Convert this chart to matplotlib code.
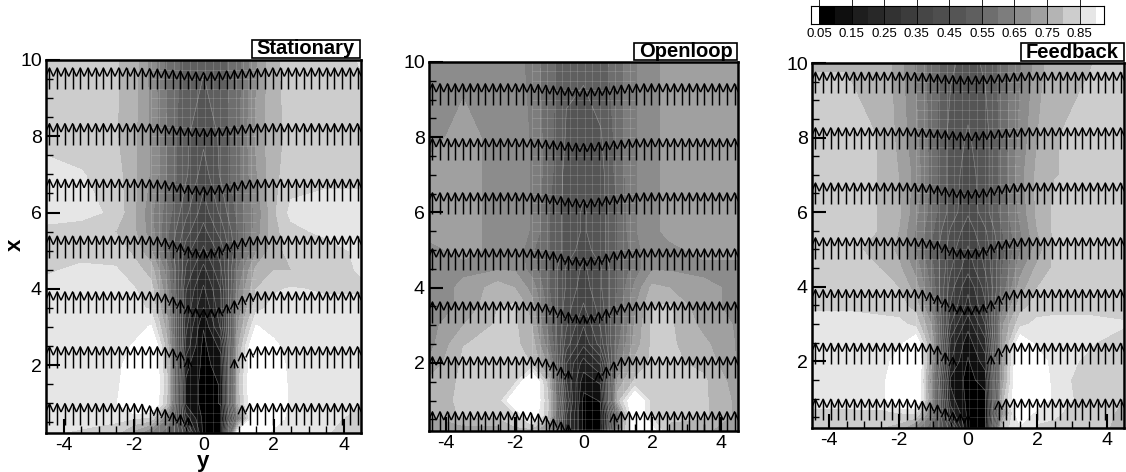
import numpy as np
import matplotlib
matplotlib.use("Agg")
import matplotlib.pyplot as plt
from matplotlib.colors import ListedColormap, BoundaryNorm
from matplotlib.collections import LineCollection

plt.rcParams['font.family'] = ['Liberation Sans', 'DejaVu Sans']
plt.rcParams['axes.unicode_minus'] = False

W, H = 1126, 472

# grid the gray field is read on
y_cols = [-4.5, -3.5, -2.5, -2, -1.5, -1, -0.5, 0, 0.5, 1, 1.5, 2, 2.5, 3.5, 4.5]
x_rows = [0.2, 0.6, 1, 1.5, 2, 2.5, 3, 3.5, 4, 4.5, 5, 5.5, 6, 7, 8, 10]

# these are shades as seen in the panels, turned into values through the colour bar below
field_stationary = [
    [.84, .82, .76, .62, .50, .44, .30, .06, .06, .95, .96, .86, .84, .84, .76],
    [.86, .86, .86, .84, .80, .50, .20, .06, .06, .50, .96, .94, .86, .86, .80],
    [.86, .86, .89, .98, .98, .70, .12, .06, .08, .70, .98, .98, .88, .86, .84],
    [.86, .86, .87, .97, .98, .72, .12, .06, .08, .72, .98, .97, .87, .86, .86],
    [.86, .86, .86, .94, .98, .70, .15, .06, .10, .70, .98, .95, .86, .86, .86],
    [.86, .86, .86, .90, .97, .66, .20, .06, .15, .66, .97, .91, .86, .86, .86],
    [.86, .86, .86, .87, .90, .60, .22, .08, .22, .60, .90, .87, .86, .86, .86],
    [.86, .86, .86, .86, .82, .55, .24, .13, .24, .55, .80, .86, .86, .86, .86],
    [.86, .86, .86, .84, .78, .52, .25, .17, .25, .52, .74, .82, .84, .82, .82],
    [.82, .85, .84, .79, .70, .48, .28, .20, .28, .48, .68, .74, .74, .80, .84],
    [.74, .80, .80, .72, .60, .42, .30, .24, .30, .42, .58, .70, .78, .78, .86],
    [.80, .76, .74, .68, .55, .42, .33, .27, .33, .42, .55, .71, .80, .86, .87],
    [.88, .88, .80, .68, .54, .44, .35, .30, .35, .44, .54, .72, .86, .88, .88],
    [.88, .84, .78, .68, .58, .46, .38, .33, .38, .46, .58, .72, .78, .80, .80],
    [.78, .78, .75, .68, .58, .46, .38, .35, .38, .46, .60, .72, .76, .78, .78],
    [.76, .76, .75, .70, .56, .45, .40, .38, .40, .45, .58, .72, .78, .78, .84],
]
field_openloop = [
    [.58, .62, .62, .72, .70, .55, .25, .06, .06, .52, .96, .92, .72, .68, .60],
    [.66, .76, .76, .80, .94, .72, .25, .06, .06, .45, .97, .80, .76, .76, .64],
    [.70, .76, .76, .95, .98, .72, .28, .06, .08, .70, .96, .78, .76, .76, .64],
    [.68, .76, .76, .80, .97, .68, .25, .10, .14, .62, .76, .76, .76, .76, .62],
    [.60, .76, .76, .76, .74, .56, .25, .16, .22, .50, .68, .76, .76, .72, .58],
    [.56, .74, .76, .76, .70, .48, .30, .22, .30, .46, .62, .76, .76, .68, .58],
    [.56, .66, .76, .76, .66, .44, .32, .25, .32, .44, .60, .76, .76, .64, .58],
    [.56, .60, .74, .76, .62, .44, .33, .28, .33, .44, .58, .74, .76, .60, .58],
    [.56, .60, .70, .66, .56, .42, .34, .30, .34, .42, .54, .68, .66, .60, .58],
    [.56, .58, .58, .58, .50, .42, .34, .31, .34, .42, .50, .58, .58, .58, .58],
    [.58, .60, .58, .58, .48, .42, .36, .33, .36, .42, .50, .58, .58, .60, .60],
    [.60, .60, .58, .56, .52, .42, .36, .34, .36, .42, .52, .58, .60, .60, .60],
    [.60, .60, .58, .56, .52, .42, .36, .34, .36, .42, .52, .58, .60, .60, .60],
    [.60, .60, .58, .56, .52, .44, .36, .35, .36, .44, .52, .58, .60, .60, .60],
    [.58, .60, .58, .56, .52, .44, .37, .36, .37, .44, .52, .58, .60, .60, .60],
    [.56, .58, .58, .56, .50, .44, .38, .38, .40, .44, .52, .58, .60, .60, .60],
]
field_feedback = [
    [.78, .76, .74, .70, .55, .42, .30, .06, .06, .80, .88, .82, .82, .80, .70],
    [.82, .82, .82, .82, .84, .48, .20, .06, .06, .55, .96, .86, .84, .80, .72],
    [.86, .86, .87, .98, .98, .52, .15, .06, .06, .70, .98, .97, .87, .80, .74],
    [.86, .86, .86, .97, .98, .50, .12, .06, .10, .62, .98, .96, .86, .80, .76],
    [.86, .86, .86, .92, .98, .55, .18, .07, .16, .60, .98, .93, .86, .82, .78],
    [.86, .86, .86, .88, .93, .60, .20, .10, .20, .60, .93, .88, .86, .84, .80],
    [.86, .86, .86, .86, .80, .56, .25, .15, .25, .58, .80, .86, .86, .86, .84],
    [.82, .82, .80, .78, .70, .48, .28, .20, .28, .50, .70, .78, .80, .80, .80],
    [.78, .82, .78, .74, .62, .44, .30, .22, .30, .44, .62, .74, .78, .78, .78],
    [.78, .78, .74, .68, .56, .42, .32, .26, .32, .42, .56, .68, .76, .78, .78],
    [.76, .76, .72, .64, .52, .40, .33, .28, .33, .40, .52, .62, .76, .78, .78],
    [.76, .76, .74, .66, .52, .42, .34, .30, .34, .42, .52, .66, .76, .78, .78],
    [.76, .76, .74, .68, .54, .44, .36, .32, .36, .44, .54, .68, .76, .78, .78],
    [.76, .76, .74, .66, .56, .44, .36, .33, .36, .44, .56, .68, .74, .76, .76],
    [.76, .76, .74, .64, .54, .44, .36, .34, .36, .44, .54, .66, .74, .76, .76],
    [.74, .74, .72, .62, .52, .44, .38, .36, .38, .44, .52, .62, .72, .74, .76],
]

# arrow profiles: 12 outer arrows each side, then the 17 wake arrows
arrow_y = [-4.4 + 0.22 * i for i in range(41)]
outer_count = 12

stations_stationary = [9.23, 7.77, 6.31, 4.82, 3.36, 1.92, 0.43]
stations_openloop = [8.86, 7.40, 5.96, 4.47, 3.06, 1.60, 0.14]
stations_feedback = [9.19, 7.70, 6.22, 4.75, 3.36, 1.92, 0.42]

outer_speed = [.56, .56, .56, .56, .56, .56, .56]

wake_stationary = [
    [.55, .54, .53, .52, .50, .48, .46, .45, .44, .45, .46, .48, .50, .52, .53, .54, .55],
    [.56, .55, .54, .52, .50, .48, .45, .44, .43, .44, .45, .48, .50, .52, .54, .55, .56],
    [.56, .55, .54, .52, .48, .44, .40, .38, .36, .38, .40, .44, .48, .52, .54, .55, .56],
    [.56, .55, .54, .50, .44, .36, .28, .22, .20, .22, .28, .36, .44, .50, .54, .55, .56],
    [.56, .56, .54, .50, .42, .34, .20, .12, .10, .10, .14, .22, .32, .44, .52, .56, .56],
    [.56, .56, .56, .54, .50, .42, .25, 0, 0, 0, 0, 0, .22, .40, .50, .56, .56],
    [.54, .50, .46, .40, .32, .26, .18, 0, 0, 0, 0, 0, 0, .50, .56, .56, .56],
]
wake_openloop = [
    [.56, .55, .54, .52, .50, .48, .46, .45, .44, .45, .46, .48, .50, .52, .54, .55, .56],
    [.56, .55, .54, .52, .50, .48, .46, .44, .43, .44, .46, .48, .50, .52, .54, .55, .56],
    [.56, .55, .54, .52, .48, .46, .42, .40, .38, .40, .42, .46, .48, .52, .54, .55, .56],
    [.56, .55, .54, .52, .48, .42, .36, .34, .32, .34, .36, .42, .48, .52, .54, .55, .56],
    [.56, .55, .54, .50, .44, .36, .28, .22, .20, .22, .28, .36, .44, .50, .54, .55, .56],
    [.56, .56, .54, .50, .42, .28, .18, 0, 0, 0, .14, .28, .42, .54, .56, .56, .56],
    [.56, .54, .50, .44, .36, .28, .20, 0, 0, 0, 0, 0, .50, .56, .56, .56, .56],
]
wake_feedback = [
    [.56, .55, .54, .52, .50, .48, .47, .46, .45, .46, .47, .48, .50, .52, .54, .55, .56],
    [.56, .55, .54, .52, .50, .48, .46, .44, .43, .44, .46, .48, .50, .52, .54, .55, .56],
    [.56, .55, .54, .52, .48, .44, .40, .38, .36, .38, .40, .44, .48, .52, .54, .55, .56],
    [.56, .55, .54, .50, .46, .38, .30, .26, .24, .26, .30, .38, .46, .50, .54, .55, .56],
    [.56, .56, .54, .48, .40, .30, .18, .12, .10, .12, .16, .26, .38, .50, .54, .56, .56],
    [.56, .56, .56, .54, .48, .30, .18, 0, 0, 0, 0, .22, .42, .52, .56, .56, .56],
    [.56, .54, .50, .46, .40, .30, .20, .16, .14, 0, 0, 0, .50, .56, .56, .56, .56],
]

panel_names = ["Stationary", "Openloop", "Feedback"]
colorbar_labels = ["0.05", "0.15", "0.25", "0.35", "0.45", "0.55", "0.65", "0.75", "0.85"]
levels = [0.05 * i for i in range(1, 19)]
# gray of each colour bar step
bar_grays = [0, 15, 30, 40, 50, 60, 70, 78, 85, 95, 110, 125, 140, 160, 180, 205, 230]

cmap = ListedColormap([(g / 255, g / 255, g / 255) for g in bar_grays])
cmap.set_over("white")
cmap.set_under("white")
norm = BoundaryNorm(levels, cmap.N)

bar_mids = [lev + 0.025 for lev in levels[:-1]]


def shade_to_value(field):
    g = (np.array(field) - 0.05) * 1.09 * 255
    return np.interp(g, bar_grays + [255], bar_mids + [1.0])


def px_axes(fig, left, right, top, bottom):
    return fig.add_axes([left / W, 1 - bottom / H, (right - left) / W, (bottom - top) / H])


def draw_panel(fig, box, xlim, field, stations, wake, name, namebox):
    ax = px_axes(fig, *box)
    yy, xx = np.meshgrid(y_cols, x_rows)
    z = shade_to_value(field)
    ax.contourf(yy, xx, z, levels=levels, cmap=cmap, norm=norm, extend="both")
    ax.contour(yy, xx, z, levels=levels[:10], colors="#d0d0d0", linewidths=0.4, alpha=0.45)

    # light mesh over the wake
    for v in np.arange(-1.5, 1.55, 0.22):
        ax.vlines(v, xlim[0], 10, color="white", lw=0.5, alpha=0.2)
    for v in np.arange(0.25, 10, 0.25):
        ax.hlines(v, -1.5, 1.5, color="white", lw=0.5, alpha=0.2)

    # velocity profiles, drawn as open arrows
    segs = []
    for st, out, centre in zip(stations, outer_speed, wake):
        row = [out] * outer_count + centre + [out] * outer_count
        for yv, u in zip(arrow_y, row):
            if u <= 0:
                continue
            tip = st + u
            segs.append([(yv, st), (yv, tip)])
            segs.append([(yv - 0.11, tip - 0.22), (yv, tip), (yv + 0.11, tip - 0.22)])
    ax.add_collection(LineCollection(segs, colors="black", linewidths=1.05, zorder=3))

    ax.set_xlim(-4.5, 4.5)
    ax.set_ylim(xlim[0], 10)
    ax.set_xticks([-4, -2, 0, 2, 4])
    ax.set_yticks([2, 4, 6, 8, 10])
    ax.set_xticks(np.arange(-4, 4.5, 0.5), minor=True)
    ax.set_yticks(np.arange(0.5, 10, 0.5), minor=True)
    ax.tick_params(which="major", direction="in", length=10, width=1.5, labelsize=14, pad=3)
    ax.tick_params(which="minor", direction="in", length=5, width=1)
    for s in ax.spines.values():
        s.set_linewidth(1.8)

    l, r, t, b = namebox
    fig.patches.append(plt.Rectangle((l / W, 1 - b / H), (r - l) / W, (b - t) / H, transform=fig.transFigure,
                                     fc="white", ec="black", lw=1.2))
    fig.text((l + r) / 2 / W, 1 - (t + b) / 2 / H, name, ha="center", va="center",
             fontsize=14.5, fontweight="bold")
    return ax


fig = plt.figure(figsize=(W / 100, H / 100), dpi=100)

draw_panel(fig, (46, 361, 60, 433), (0.22, 10), field_stationary, stations_stationary, wake_stationary,
           panel_names[0], (252, 360, 40, 58))
draw_panel(fig, (429, 738, 62, 431), (0.19, 10), field_openloop, stations_openloop, wake_openloop,
           panel_names[1], (634, 737, 43, 60))
draw_panel(fig, (812, 1124, 63, 428), (0.21, 10), field_feedback, stations_feedback, wake_feedback,
           panel_names[2], (1021, 1124, 43, 61))

fig.text(15 / W, 1 - 245 / H, "x", rotation=90, ha="center", va="center", fontsize=16, fontweight="bold")
fig.text(203 / W, 1 - 461 / H, "y", ha="center", va="center", fontsize=16, fontweight="bold")

# colour legend on top of the third panel
cax = px_axes(fig, 811, 1104, 6, 24)
edges = [0.025] + levels + [0.925]
vals = [0.0] + bar_mids + [1.0]
cax.pcolormesh(edges, [0, 1], np.array([vals]), cmap=cmap, norm=norm, edgecolors="none")
cax.set_xlim(0.025, 0.925)
cax.set_ylim(0, 1)
cax.set_yticks([])
cax.set_xticks([0.05 + 0.1 * i for i in range(9)])
cax.set_xticklabels(colorbar_labels, fontsize=9.5)
cax.tick_params(axis="x", direction="in", length=18, width=0.6, pad=3)
for s in cax.spines.values():
    s.set_linewidth(0.8)

fig.savefig("out.png", dpi=100)
